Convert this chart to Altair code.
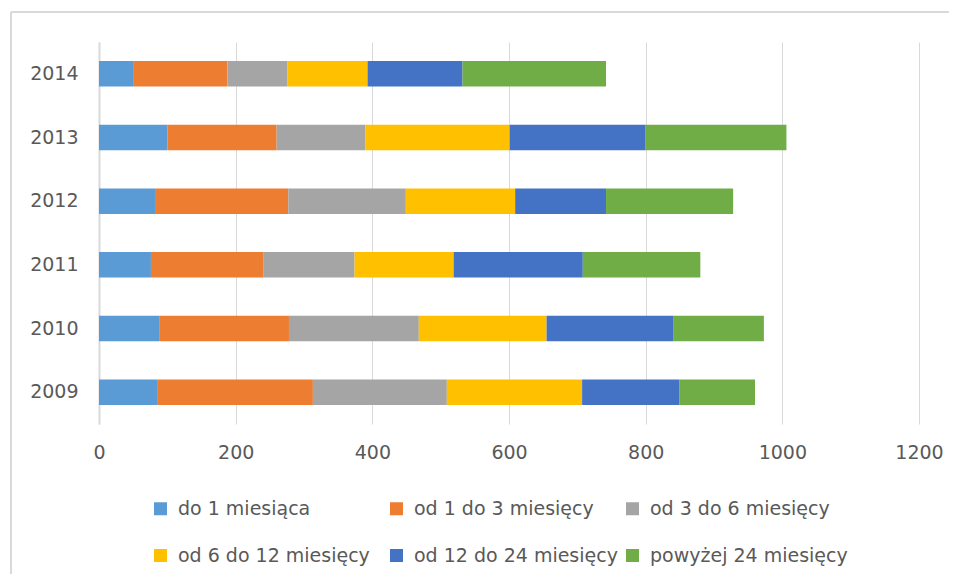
import altair as alt
import pandas as pd

years = ["2014", "2013", "2012", "2011", "2010", "2009"]
series = ["do 1 miesiąca", "od 1 do 3 miesięcy", "od 3 do 6 miesięcy",
          "od 6 do 12 miesięcy", "od 12 do 24 miesięcy", "powyżej 24 miesięcy"]
colors = ["#5B9BD5", "#ED7D31", "#A5A5A5", "#FFC000", "#4472C4", "#70AD47"]

# values per series, in the order of `years`
s_do1 = [51, 100, 82, 76, 88, 85]
s_1_3 = [137, 160, 195, 165, 190, 228]
s_3_6 = [88, 130, 172, 133, 190, 196]
s_6_12 = [117, 211, 160, 145, 187, 198]
s_12_24 = [139, 199, 133, 189, 186, 142]
s_24 = [210, 206, 186, 172, 132, 111]
x_ticks = [0, 200, 400, 600, 800, 1000, 1200]

all_vals = [s_do1, s_1_3, s_3_6, s_6_12, s_12_24, s_24]
rows = []
for si, (name, vals) in enumerate(zip(series, all_vals)):
    for y, v in zip(years, vals):
        rows.append({"year": y, "series": name, "value": v, "ord": si})
df = pd.DataFrame(rows)

FONT = "DejaVu Sans"
TXT = "#595959"

bars = alt.Chart(df).mark_bar().encode(
    y=alt.Y("year:N", sort=years, title=None,
            scale=alt.Scale(paddingInner=0.6, paddingOuter=0.3),
            axis=alt.Axis(domain=True, domainColor="#d9d9d9", domainWidth=2,
                          ticks=False, labelPadding=21, labelFontSize=19,
                          labelColor=TXT, labelFont=FONT, grid=False)),
    x=alt.X("value:Q", stack="zero", title=None,
            scale=alt.Scale(domain=[0, 1200], nice=False),
            axis=alt.Axis(values=x_ticks, grid=True, gridColor="#d9d9d9",
                          gridWidth=1, domain=False, ticks=False, format="d",
                          labelPadding=19, labelFontSize=19, labelColor=TXT,
                          labelFont=FONT, labelFlush=False)),
    color=alt.Color("series:N", sort=series,
                    scale=alt.Scale(domain=series, range=colors),
                    legend=alt.Legend(title=None, orient="none", legendX=52,
                                      legendY=457, columns=3, direction="horizontal",
                                      symbolType="square", symbolSize=169,
                                      symbolStrokeWidth=0, labelFontSize=19,
                                      labelFont=FONT, labelColor=TXT,
                                      labelLimit=400, labelOffset=8,
                                      rowPadding=27, columnPadding=5,
                                      gridAlign="all", padding=0)),
    order=alt.Order("ord:Q", sort="ascending"),
)

frame_src = pd.DataFrame({"a": [0]})
top_edge = alt.Chart(frame_src).mark_rule(color="#d9d9d9", strokeWidth=2).encode(
    x=alt.value(-88), x2=alt.value(900), y=alt.value(-30))
left_edge = alt.Chart(frame_src).mark_rule(color="#d9d9d9", strokeWidth=2).encode(
    x=alt.value(-88), y=alt.value(-30), y2=alt.value(600))

chart = alt.layer(top_edge, left_edge, bars).properties(
    width=820, height=382,
    autosize=alt.AutoSizeParams(type="none"),
    padding={"left": 91, "top": 34, "right": 30, "bottom": 150},
).configure(background="white").configure_view(stroke=None)

chart.save("out.html", embed_options={"renderer": "svg", "actions": False})
